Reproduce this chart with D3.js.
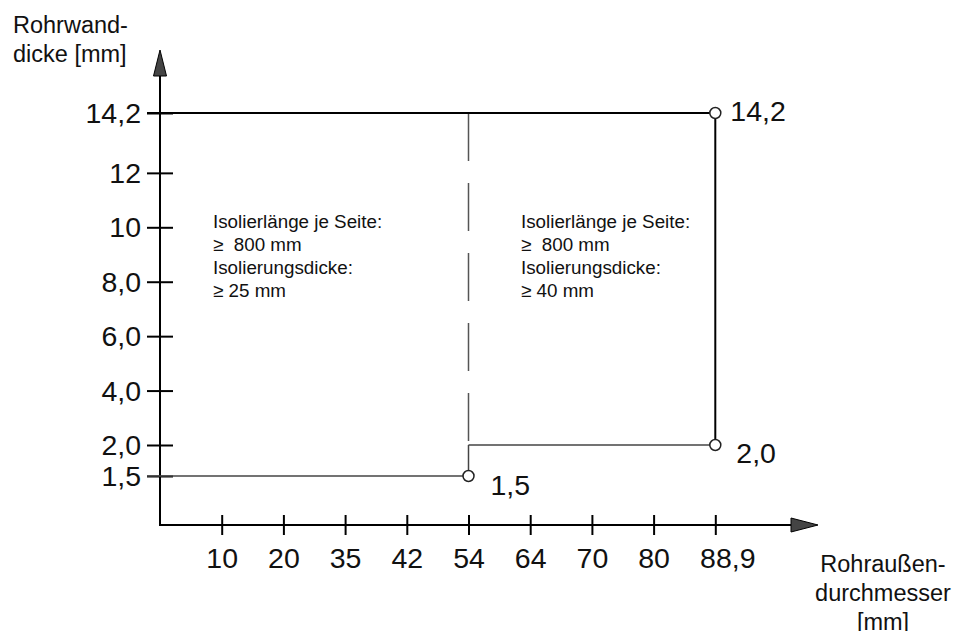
<!DOCTYPE html>
<html><head><meta charset="utf-8">
<script src="https://cdn.jsdelivr.net/npm/d3@7"></script>
<style>
html,body{margin:0;padding:0;background:#fff;}
svg{display:block;font-family:"Liberation Sans",Arial,sans-serif;}
text{white-space:pre;}
</style></head>
<body>
<svg id="c" width="956" height="631"></svg>
<script>
// ---- data ----
const xTicks = [10, 20, 35, 42, 54, 64, 70, 80, 88.9];
const xTickLabels = ["10", "20", "35", "42", "54", "64", "70", "80", "88,9"];
const yTicks = [1.5, 2.0, 4.0, 6.0, 8.0, 10, 12, 14.2];
const yTickLabels = ["1,5", "2,0", "4,0", "6,0", "8,0", "10", "12", "14,2"];
// boundary line (Rohraußendurchmesser, Rohrwanddicke)
const boundary = [[0, 1.5], [54, 1.5], [54, 2.0], [88.9, 2.0], [88.9, 14.2], [0, 14.2]];
const markedPoints = [[54, 1.5, "1,5"], [88.9, 2.0, "2,0"], [88.9, 14.2, "14,2"]];
const dividerX = 54, dividerFrom = 14.2, dividerTo = 2.0;
const notesLeft = ["Isolierlänge je Seite:", "≥\u00a0 800 mm", "Isolierungsdicke:", "≥ 25 mm"];
const notesRight = ["Isolierlänge je Seite:", "≥\u00a0 800 mm", "Isolierungsdicke:", "≥ 40 mm"];
const yTitle = ["Rohrwand-", "dicke [mm]"];
const xTitle = ["Rohraußen-", "durchmesser", "[mm]"];

// ---- layout ----
const ox = 160, oy = 525, xStep = 61.7;
const svg = d3.select("#c");

const x = d3.scaleLinear()
  .domain([0, ...xTicks])
  .range(d3.range(xTicks.length + 1).map(i => ox + i * xStep));
const y = d3.scaleLinear()
  .domain([1.5, 2.0, 14.2])
  .range([476, 445, 113]);

// axes (ticks crossing)
const gy = svg.append("g").attr("transform", `translate(${ox},0)`)
  .call(d3.axisLeft(y).tickValues(yTicks)
    .tickFormat((d, i) => yTickLabels[i]).tickSize(13).tickPadding(6));
gy.select(".domain").remove();
gy.selectAll(".tick line").attr("x1", -13).attr("x2", 13).attr("stroke", "#000").attr("stroke-width", 2);
gy.selectAll(".tick text").attr("font-size", 28.5).attr("fill", "#111")
  .attr("font-family", "Liberation Sans, Arial, sans-serif").attr("dy", "0.34em");

const gx = svg.append("g").attr("transform", `translate(0,${oy})`)
  .call(d3.axisBottom(x).tickValues(xTicks)
    .tickFormat((d, i) => xTickLabels[i]).tickSize(10).tickPadding(13));
gx.select(".domain").remove();
gx.selectAll(".tick line").attr("y1", -10).attr("y2", 10).attr("stroke", "#000").attr("stroke-width", 2);
gx.selectAll(".tick text").attr("font-size", 28.5).attr("fill", "#111")
  .attr("font-family", "Liberation Sans, Arial, sans-serif")
  .attr("dx", (d, i) => xTickLabels[i].includes(",") ? 12 : 0);

// axis lines with arrows
svg.append("line").attr("x1", ox).attr("y1", oy + 1).attr("x2", ox).attr("y2", 62)
  .attr("stroke", "#000").attr("stroke-width", 2);
svg.append("path").attr("d", `M${ox},50 L${ox - 6.5},76 L${ox + 6.5},76 Z`)
  .attr("fill", "#444").attr("stroke", "#000").attr("stroke-width", 1);
svg.append("line").attr("x1", ox - 1).attr("y1", oy).attr("x2", 806).attr("y2", oy)
  .attr("stroke", "#000").attr("stroke-width", 2);
svg.append("path").attr("d", `M818,${oy} L791,${oy - 7} L791,${oy + 7} Z`)
  .attr("fill", "#444").attr("stroke", "#000").attr("stroke-width", 1);

// dashed divider
svg.append("line")
  .attr("x1", x(dividerX)).attr("x2", x(dividerX))
  .attr("y1", y(dividerFrom)).attr("y2", y(dividerTo))
  .attr("stroke", "#555").attr("stroke-width", 1.5).attr("stroke-dasharray", "48,22");

// boundary segments
const segs = d3.pairs(boundary);
svg.append("g").selectAll("line").data(segs).join("line")
  .attr("x1", d => d[0][0] === 0 ? ox - 13 : x(d[0][0]))
  .attr("y1", d => y(d[0][1]))
  .attr("x2", d => d[1][0] === 0 ? ox - 13 : x(d[1][0]))
  .attr("y2", d => y(d[1][1]))
  .attr("stroke", (d, i) => i >= 3 ? "#000" : "#444")
  .attr("stroke-width", (d, i) => i >= 3 ? 2 : 1.5);

// marked points
svg.append("g").selectAll("circle").data(markedPoints).join("circle")
  .attr("cx", d => x(d[0])).attr("cy", d => y(d[1])).attr("r", 5.5)
  .attr("fill", "#fff").attr("stroke", "#222").attr("stroke-width", 1.5);
const ptOffsets = [[22, 19], [21, 18], [15, 8]];
svg.append("g").selectAll("text").data(markedPoints).join("text")
  .attr("x", (d, i) => x(d[0]) + ptOffsets[i][0])
  .attr("y", (d, i) => y(d[1]) + ptOffsets[i][1])
  .attr("font-size", 28.5).attr("fill", "#111").text(d => d[2]);

// notes
function notes(lines, x0) {
  svg.append("g").selectAll("text").data(lines).join("text")
    .attr("x", x0).attr("y", (d, i) => 228 + i * 23)
    .attr("font-size", 18.8).attr("fill", "#111").text(d => d);
}
notes(notesLeft, 213);
notes(notesRight, 521);

// titles
svg.append("g").selectAll("text").data(yTitle).join("text")
  .attr("x", 13).attr("y", (d, i) => 33 + i * 29)
  .attr("font-size", 23.5).attr("fill", "#111").text(d => d);
svg.append("g").selectAll("text").data(xTitle).join("text")
  .attr("x", 883).attr("y", (d, i) => 572 + i * 29).attr("text-anchor", "middle")
  .attr("font-size", 23.5).attr("fill", "#111").text(d => d);
</script>
</body></html>
